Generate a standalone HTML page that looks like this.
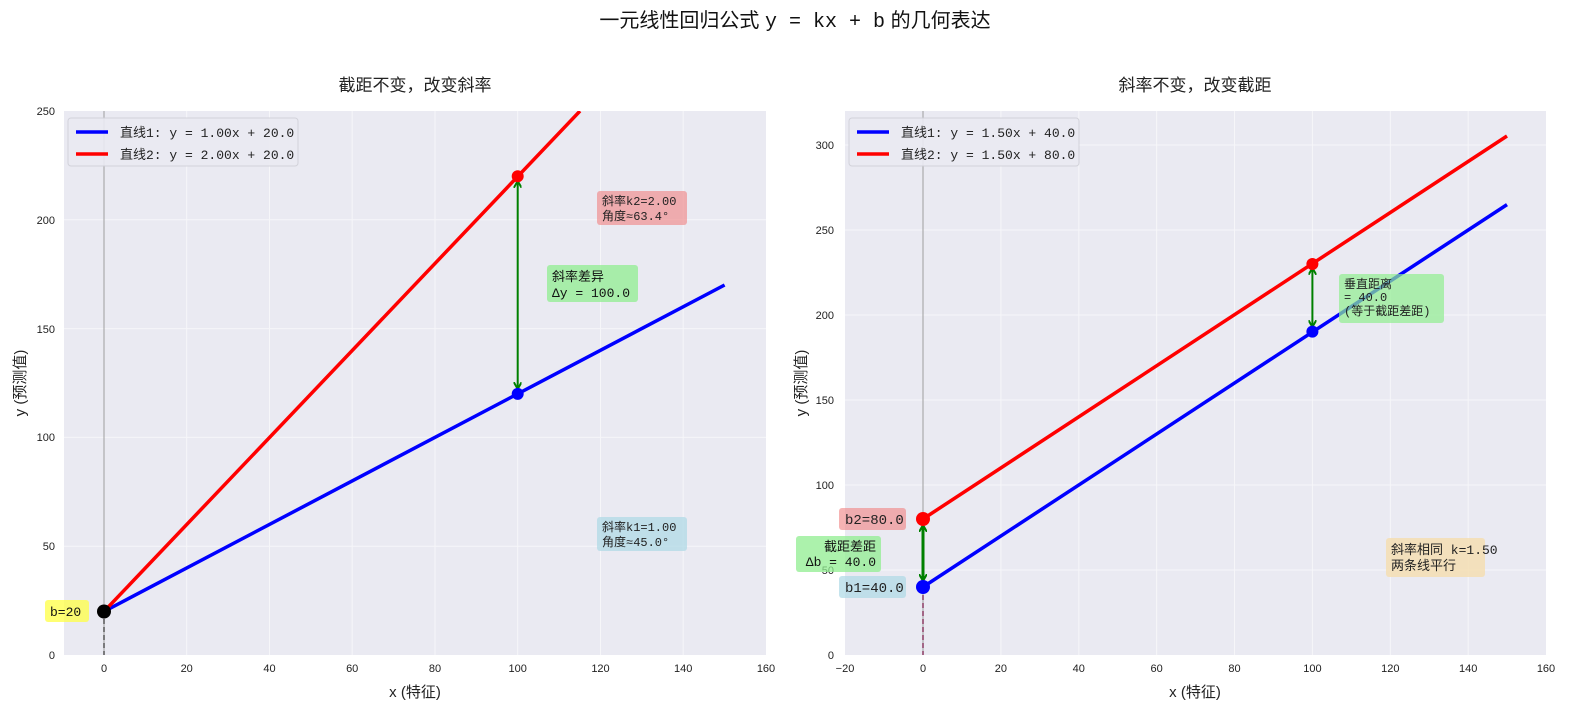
<!DOCTYPE html>
<html><head><meta charset="utf-8"><style>
html,body{margin:0;padding:0;background:#fff}
svg{display:block}
text{font-family:"Liberation Sans","Noto Sans CJK SC",sans-serif}
.t text{font-size:11px;fill:#222}
.m, .m text, text.m, tspan.m{font-family:"Liberation Mono","Noto Sans CJK SC",monospace}
</style></head><body>
<svg width="1590" height="719" viewBox="0 0 1590 719" xmlns="http://www.w3.org/2000/svg">
<defs>
<clipPath id="c1"><rect x="64" y="111" width="702" height="544"/></clipPath>
<clipPath id="c2"><rect x="845" y="111" width="701" height="544"/></clipPath>
<marker id="ah" markerWidth="8" markerHeight="8" refX="6" refY="4" orient="auto-start-reverse" markerUnits="userSpaceOnUse"><path d="M0,0 L7,4 L0,8" fill="none" stroke="green" stroke-width="2"/></marker>
</defs>
<text x="795" y="27" text-anchor="middle" font-size="20" fill="#111">一元线性回归公式 <tspan class="m">y = kx + b</tspan> 的几何表达</text>

<!-- LEFT -->
<rect x="64" y="111" width="702" height="544" fill="#EAEAF2"/>
<g stroke="#fff" stroke-width="1" opacity="0.6">
<line x1="104" y1="111" x2="104" y2="655"/><line x1="186.7" y1="111" x2="186.7" y2="655"/><line x1="269.5" y1="111" x2="269.5" y2="655"/><line x1="352.2" y1="111" x2="352.2" y2="655"/><line x1="435" y1="111" x2="435" y2="655"/><line x1="517.7" y1="111" x2="517.7" y2="655"/><line x1="600.5" y1="111" x2="600.5" y2="655"/><line x1="683.2" y1="111" x2="683.2" y2="655"/>
<line x1="64" y1="546.2" x2="766" y2="546.2"/><line x1="64" y1="437.4" x2="766" y2="437.4"/><line x1="64" y1="328.6" x2="766" y2="328.6"/><line x1="64" y1="219.8" x2="766" y2="219.8"/>
</g>
<g class="t" text-anchor="middle">
<text x="104" y="672">0</text><text x="186.7" y="672">20</text><text x="269.5" y="672">40</text><text x="352.2" y="672">60</text><text x="435" y="672">80</text><text x="517.7" y="672">100</text><text x="600.5" y="672">120</text><text x="683.2" y="672">140</text><text x="766" y="672">160</text>
</g>
<g class="t" text-anchor="end">
<text x="55" y="659">0</text><text x="55" y="550">50</text><text x="55" y="441">100</text><text x="55" y="333">150</text><text x="55" y="224">200</text><text x="55" y="115">250</text>
</g>
<text x="415" y="697" text-anchor="middle" font-size="15" fill="#222">x (特征)</text>
<text transform="translate(25,383) rotate(-90)" text-anchor="middle" font-size="15" fill="#222">y (预测值)</text>
<text x="415" y="91" text-anchor="middle" font-size="17" fill="#222">截距不变，改变斜率</text>
<g clip-path="url(#c1)">
<line x1="104" y1="111" x2="104" y2="655" stroke="#888" stroke-width="0.8"/>
<line x1="104" y1="611" x2="104" y2="655" stroke="#555" stroke-width="1.5" stroke-dasharray="5,3"/>
<line x1="104" y1="611.5" x2="724.6" y2="285" stroke="blue" stroke-width="3.5"/>
<line x1="104" y1="611.5" x2="580" y2="111" stroke="red" stroke-width="3.5"/>
</g>
<line x1="517.7" y1="182" x2="517.7" y2="388" stroke="green" stroke-width="2" marker-start="url(#ah)" marker-end="url(#ah)"/>
<circle cx="517.7" cy="176.3" r="6" fill="red"/>
<circle cx="517.7" cy="393.9" r="6" fill="blue"/>
<circle cx="104" cy="611.5" r="7" fill="#000"/>
<g class="m" font-size="13">
<rect x="597" y="191" width="90" height="34" rx="3" fill="#F08080" opacity="0.6"/>
<text x="602" y="205" font-size="12" fill="#222">斜率k2=2.00</text><text x="602" y="220" font-size="12" fill="#222">角度≈63.4°</text>
<rect x="547" y="265" width="91" height="37" rx="3" fill="#90EE90" opacity="0.75"/>
<text x="552" y="281" fill="#111">斜率差异</text><text x="552" y="297" fill="#111">Δy = 100.0</text>
<rect x="597" y="517" width="90" height="34" rx="3" fill="#ADD8E6" opacity="0.7"/>
<text x="602" y="531" font-size="12" fill="#222">斜率k1=1.00</text><text x="602" y="546" font-size="12" fill="#222">角度≈45.0°</text>
<rect x="45" y="600" width="44" height="22" rx="3" fill="#FFFF44" opacity="0.75"/>
<text x="50" y="616" fill="#111">b=20</text>
</g>
<rect x="68" y="118" width="230" height="48" rx="3" fill="#EAEAF2" stroke="#d0d0d8" opacity="0.9"/>
<line x1="76" y1="132" x2="108" y2="132" stroke="blue" stroke-width="3.5"/>
<line x1="76" y1="154" x2="108" y2="154" stroke="red" stroke-width="3.5"/>
<text x="120" y="137" font-size="13" fill="#222" class="m">直线1: y = 1.00x + 20.0</text>
<text x="120" y="159" font-size="13" fill="#222" class="m">直线2: y = 2.00x + 20.0</text>

<!-- RIGHT -->
<rect x="845" y="111" width="701" height="544" fill="#EAEAF2"/>
<g stroke="#fff" stroke-width="1" opacity="0.6">
<line x1="923" y1="111" x2="923" y2="655"/><line x1="1000.9" y1="111" x2="1000.9" y2="655"/><line x1="1078.8" y1="111" x2="1078.8" y2="655"/><line x1="1156.6" y1="111" x2="1156.6" y2="655"/><line x1="1234.5" y1="111" x2="1234.5" y2="655"/><line x1="1312.4" y1="111" x2="1312.4" y2="655"/><line x1="1390.3" y1="111" x2="1390.3" y2="655"/><line x1="1468.2" y1="111" x2="1468.2" y2="655"/>
<line x1="845" y1="570" x2="1546" y2="570"/><line x1="845" y1="485" x2="1546" y2="485"/><line x1="845" y1="400" x2="1546" y2="400"/><line x1="845" y1="315" x2="1546" y2="315"/><line x1="845" y1="230" x2="1546" y2="230"/><line x1="845" y1="145" x2="1546" y2="145"/>
</g>
<g class="t" text-anchor="middle">
<text x="845" y="672">−20</text><text x="923" y="672">0</text><text x="1000.9" y="672">20</text><text x="1078.8" y="672">40</text><text x="1156.6" y="672">60</text><text x="1234.5" y="672">80</text><text x="1312.4" y="672">100</text><text x="1390.3" y="672">120</text><text x="1468.2" y="672">140</text><text x="1546" y="672">160</text>
</g>
<g class="t" text-anchor="end">
<text x="834" y="659">0</text><text x="834" y="574">50</text><text x="834" y="489">100</text><text x="834" y="404">150</text><text x="834" y="319">200</text><text x="834" y="234">250</text><text x="834" y="149">300</text>
</g>
<text x="1195" y="697" text-anchor="middle" font-size="15" fill="#222">x (特征)</text>
<text transform="translate(806,383) rotate(-90)" text-anchor="middle" font-size="15" fill="#222">y (预测值)</text>
<text x="1195" y="91" text-anchor="middle" font-size="17" fill="#222">斜率不变，改变截距</text>
<g clip-path="url(#c2)">
<line x1="923" y1="111" x2="923" y2="655" stroke="#888" stroke-width="0.8"/>
<line x1="923" y1="587" x2="923" y2="655" stroke="#8B3A62" stroke-width="1.5" stroke-dasharray="5,3"/>
<line x1="923" y1="587" x2="1507" y2="204.6" stroke="blue" stroke-width="3.5"/>
<line x1="923" y1="519" x2="1507" y2="136" stroke="red" stroke-width="3.5"/>
</g>
<line x1="923" y1="526" x2="923" y2="580" stroke="green" stroke-width="3" marker-start="url(#ah)" marker-end="url(#ah)"/>
<line x1="1312.4" y1="269" x2="1312.4" y2="326" stroke="green" stroke-width="2" marker-start="url(#ah)" marker-end="url(#ah)"/>
<circle cx="1312.4" cy="264" r="6" fill="red"/>
<circle cx="1312.4" cy="331.6" r="6" fill="blue"/>
<circle cx="923" cy="519" r="7" fill="red"/>
<circle cx="923" cy="587" r="7" fill="blue"/>
<g class="m" font-size="14">
<rect x="839" y="508" width="67" height="22" rx="3" fill="#F08080" opacity="0.6"/>
<text x="845" y="524" fill="#222">b2=80.0</text>
<rect x="839" y="576" width="67" height="22" rx="3" fill="#ADD8E6" opacity="0.7"/>
<text x="845" y="592" fill="#222">b1=40.0</text>
<rect x="796" y="536" width="85" height="36" rx="3" fill="#90EE90" opacity="0.75"/>
<text x="876" y="551" text-anchor="end" font-size="13" fill="#111">截距差距</text><text x="876" y="566" text-anchor="end" font-size="13" fill="#111">Δb = 40.0</text>
<rect x="1339" y="274" width="105" height="49" rx="3" fill="#90EE90" opacity="0.7"/>
<text x="1344" y="288" font-size="12" fill="#222">垂直距离</text><text x="1344" y="301" font-size="12" fill="#222">= 40.0</text><text x="1344" y="315" font-size="12" fill="#222">(等于截距差距)</text>
<rect x="1386" y="538" width="99" height="39" rx="3" fill="#F5DEB3" opacity="0.85"/>
<text x="1391" y="554" font-size="13" fill="#222">斜率相同 k=1.50</text><text x="1391" y="570" font-size="13" fill="#222">两条线平行</text>
</g>
<rect x="849" y="118" width="230" height="48" rx="3" fill="#EAEAF2" stroke="#d0d0d8" opacity="0.9"/>
<line x1="857" y1="132" x2="889" y2="132" stroke="blue" stroke-width="3.5"/>
<line x1="857" y1="154" x2="889" y2="154" stroke="red" stroke-width="3.5"/>
<text x="901" y="137" font-size="13" fill="#222" class="m">直线1: y = 1.50x + 40.0</text>
<text x="901" y="159" font-size="13" fill="#222" class="m">直线2: y = 1.50x + 80.0</text>
</svg>
</body></html>
